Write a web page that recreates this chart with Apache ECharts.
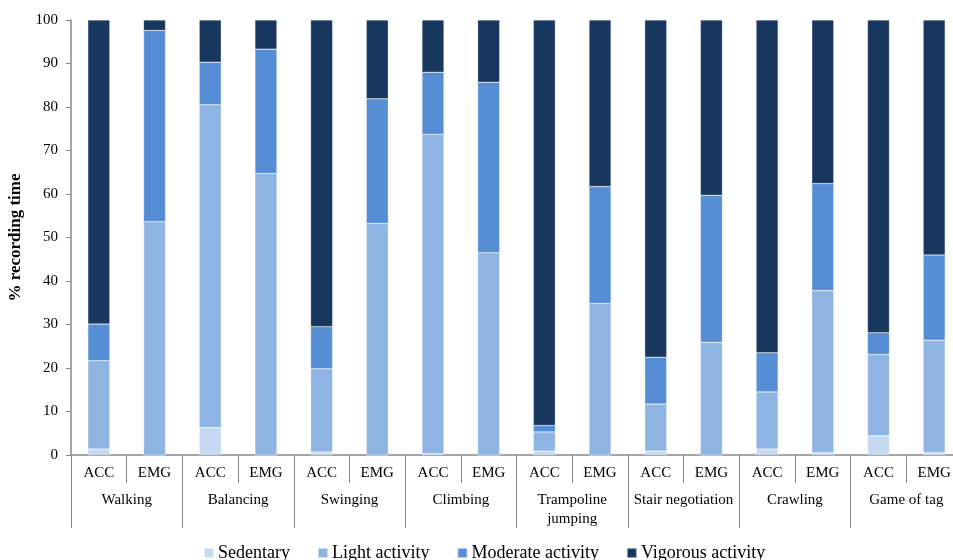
<!DOCTYPE html>
<html>
<head>
<meta charset="utf-8">
<script src="https://cdn.jsdelivr.net/npm/echarts@6/dist/echarts.min.js"></script>
<style>html,body{margin:0;padding:0;background:#fff}#c{width:953px;height:560px}</style>
</head>
<body>
<div id="c"></div>
<script>
const subLabels = ['ACC','EMG','ACC','EMG','ACC','EMG','ACC','EMG','ACC','EMG','ACC','EMG','ACC','EMG','ACC','EMG'];
const groups = ['Walking','Balancing','Swinging','Climbing','Trampoline\njumping','Stair negotiation','Crawling','Game of tag'];
const sedentary = [1.4, 0, 6.3, 0, 0.7, 0, 0.3, 0, 0.9, 0, 0.9, 0, 1.4, 0.5, 4.4, 0.5];
const light     = [20.3, 53.6, 74.2, 64.7, 19.1, 53.2, 73.4, 46.5, 4.4, 34.8, 10.8, 25.9, 13.1, 37.3, 18.7, 25.9];
const moderate  = [8.4, 44.0, 9.8, 28.6, 9.7, 28.7, 14.3, 39.2, 1.5, 26.9, 10.8, 33.8, 9.0, 24.6, 5.0, 19.6];
const vigorous  = [69.9, 2.4, 9.7, 6.7, 70.5, 18.1, 12.0, 14.3, 93.2, 38.3, 77.5, 40.3, 76.5, 37.6, 71.9, 54.0];
const seriesNames = ['Sedentary','Light activity','Moderate activity','Vigorous activity'];
const colors = ['#c6d9f1','#8eb4e3','#558ed5','#17375e'];

const FONT = "'Liberation Serif','Times New Roman',serif";
const chart = echarts.init(document.getElementById('c'));
const mk = (name, data, color) => ({
  name, type: 'bar', stack: 'total', data, barWidth: 22,
  itemStyle: { color, borderColor: 'rgba(255,255,255,0.55)', borderWidth: 0.5 },
  emphasis: { disabled: true }
});
chart.setOption({
  animation: false,
  textStyle: { fontFamily: FONT, color: '#000' },
  grid: { left: 71, top: 20, bottom: 105, width: 891, containLabel: false, outerBoundsMode: 'none' },
  legend: {
    left: 203, top: 544, padding: 0,
    itemWidth: 10, itemHeight: 10, itemGap: 27, icon: 'rect',
    textStyle: { fontFamily: FONT, fontSize: 18, color: '#000', padding: [0,0,0,-1] },
    data: seriesNames
  },
  xAxis: [
    {
      type: 'category', data: subLabels, position: 'bottom',
      axisLine: { show: true, lineStyle: { color: '#888', width: 1.5 } },
      axisTick: { show: true, interval: 0, length: 28, lineStyle: { color: '#888' } },
      axisLabel: { interval: 0, margin: 10, fontSize: 15, lineHeight: 16, color: '#000', fontFamily: FONT, hideOverlap: false }
    },
    {
      type: 'category', data: groups, position: 'bottom',
      axisLine: { show: false },
      axisTick: { show: true, interval: 0, length: 73, lineStyle: { color: '#888' } },
      axisLabel: { interval: 0, margin: 36, fontSize: 15, lineHeight: 19, color: '#000', fontFamily: FONT, hideOverlap: false }
    }
  ],
  yAxis: {
    type: 'value', min: 0, max: 100, interval: 10,
    name: '% recording time', nameLocation: 'middle', nameGap: 45, nameRotate: 90,
    nameTextStyle: { fontFamily: FONT, fontSize: 17, fontWeight: 'bold', color: '#000' },
    axisLine: { show: true, lineStyle: { color: '#888', width: 1.5 } },
    axisTick: { show: true, length: 5, lineStyle: { color: '#888' } },
    axisLabel: { margin: 13, fontSize: 15, color: '#000', fontFamily: FONT },
    splitLine: { show: false }
  },
  series: [
    mk(seriesNames[0], sedentary, colors[0]),
    mk(seriesNames[1], light, colors[1]),
    mk(seriesNames[2], moderate, colors[2]),
    mk(seriesNames[3], vigorous, colors[3])
  ]
});
</script>
</body>
</html>
